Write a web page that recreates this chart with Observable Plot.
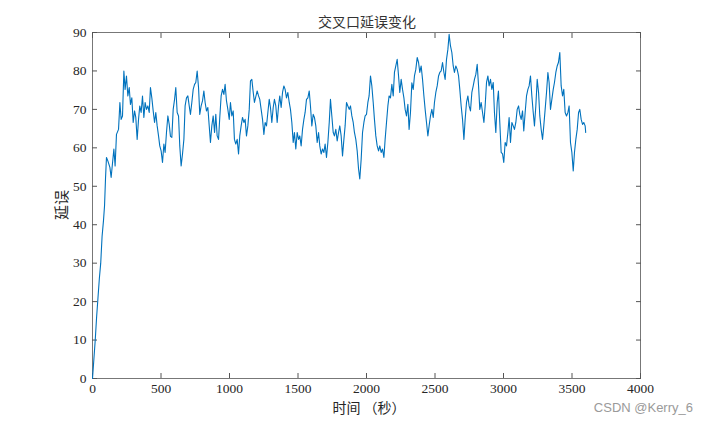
<!DOCTYPE html>
<html><head><meta charset="utf-8">
<script src="https://cdn.jsdelivr.net/npm/d3@7"></script>
<script src="https://cdn.jsdelivr.net/npm/@observablehq/plot@0.6"></script>
<style>
body{margin:0;background:#fff}
#wrap{position:relative;width:708px;height:425px;overflow:hidden}
.t{position:absolute;color:#262626;white-space:nowrap;line-height:1}
</style></head><body>
<div id="wrap"></div>
<script>
const titleText = "交叉口延误变化";
const xLabel = "时间 （秒）";
const yLabel = "延误";
const watermark = "CSDN @Kerry_6";
const xTicks = [0,500,1000,1500,2000,2500,3000,3500,4000];
const yTicks = [0,10,20,30,40,50,60,70,80,90];

const time = [0,10,20,30,40,50,60,70,80,88,95,102,112,127,136,146,156,165,175,190,200,209,219,229,238,248,258,268,277,287,297,307,316,326,336,345,355,365,375,384,394,404,414,423,433,443,453,462,472,482,491,501,511,521,530,540,550,560,
569,579,589,599,608,618,628,637,647,657,667,676,686,696,706,715,725,735,745,754,764,774,783,793,803,813,822,832,842,852,861,871,881,891,900,910,920,929,939,949,959,968,978,988,998,1007,1017,1027,1036,1046,1056,1066,1075,1085,1095,1105,1114,1124,1134,1144,1153,1163,1173,1182,
1202,1212,1221,1231,1241,1251,1260,1270,1280,1290,1299,1309,1319,1328,1338,1348,1358,1367,1377,1387,1397,1406,1416,1426,1436,1445,1455,1465,1474,1484,1494,1504,1513,1523,1533,1543,1552,1562,1572,1582,1591,1601,1611,1620,1630,1640,1650,1659,1669,1679,1689,1698,1708,1718,1728,1737,
1747,1757,1766,1776,1786,1796,1805,1815,1825,1835,1844,1854,1864,1874,1883,1893,1903,1912,1922,1932,1942,1951,1961,1971,1981,1990,2000,2010,2019,2029,2039,2049,2058,2068,2078,2088,2097,2107,2117,2127,2136,2146,2156,2165,2175,2185,2195,2204,2214,2224,2234,2243,2253,2263,2273,2282,2292,2302,2311,
2321,2331,2341,2350,2360,2370,2380,2389,2399,2409,2419,2428,2438,2448,2457,2467,2477,2487,2496,2506,2516,2526,2535,2545,2555,2565,2574,2584,2594,2603,2613,2623,2633,2642,2652,2662,2672,2681,2691,2701,2711,2720,2730,2740,2749,2759,2769,2779,2788,2798,2808,2818,2827,2837,2847,2857,2866,2876,2886,2895,2905,
2915,2925,2934,2944,2954,2963,2973,2983,2993,3002,3012,3022,3032,3041,3051,3061,3071,3080,3090,3100,3110,3119,3129,3139,3148,3158,3168,3178,3187,3197,3207,3217,3226,3236,3246,3256,3265,3275,3285,3294,3304,3314,3324,3333,3343,3353,3363,3372,3382,3392,3401,3411,3421,3431,3440,3450,3460,3470,3479,3489,3499,3509,3518,3528,3538,3548,3557,3567,3577,3586,3596,3600];

const delay = [0,5,10,16,21,26,30,37,41,45,52,57.5,56.6,54.9,52.3,56,59.7,55.3,63.5,64.8,71.8,67.4,68.3,80,75.2,78.7,73.5,75.7,71.3,73,66.6,69.6,67.9,62.2,67.4,70.9,69.2,73.5,67.9,71.8,70,70.9,69.2,75.7,73,69.6,66.6,69.2,65.7,63.1,60.5,59.2,56.2,61,58.8,64,68.3,66.1,
63,62.7,70,72.6,75.7,69.2,68.3,60.5,55.3,58.4,62.2,70.9,73,73.5,70.9,68.7,71.8,75.2,76.5,77,80,75.7,68.7,70.9,72.2,74.8,71.8,69.6,70.5,65.7,61.4,65.7,68.3,64,68.7,63.1,62.2,67.9,73.5,75.2,73.9,76.5,72.2,70,67.4,71.8,68.3,69.6,62.2,61,62.2,58.4,63.1,65.7,67.9,66.6,67.4,63.1,65.7,70,77.4,77.8,74.5,71.8,
74.8,73.5,72.6,70,67.4,63.5,66.6,65.7,69.2,72.6,70.5,66.6,70.5,72.6,70.9,66.6,70.9,73.5,70.5,74.4,76.1,75.2,73,74.4,71.8,70,66.6,61.4,64,59.7,64,62.2,63.1,60.5,64.8,67.4,69.2,72.6,73,74.8,70.9,65.7,68.7,67.9,65.7,61.4,64,60.5,58.4,59.7,58.8,61,57.5,61.4,66.6,72.6,
68.3,64,63.1,64.8,61.8,64,65.7,63.1,57.9,62.2,65.7,71.8,70.9,70,70.9,68.3,66.6,64,62.2,59.2,54.5,51.9,57,64,66.6,68.3,68.7,71.8,73.5,78.7,76.1,71.8,67.4,63.1,60.5,59.2,60.5,58.8,59.7,57.5,62.2,66.6,70.9,73.5,73,76.5,73.5,79.6,81.3,83,78.7,74.4,77.8,75.2,73,70,68.3,71.3,64.8,
69.2,76.9,75.2,78.7,80.4,83.5,82.2,79.6,81.3,77.8,73.5,70,66.6,63.1,65.7,68.3,70,67.9,71.8,74.4,76.1,78.7,79.6,80,82.2,79.6,77.8,83,85.6,89.5,86.5,84.8,81.3,79.6,81.3,80.4,78.7,75.2,70.9,67.4,62.2,67.4,71.8,73.5,70.9,69.6,74.4,76.1,77.8,79.1,81.7,76.1,70,71.8,69.2,66.6,70.9,77,78.7,76.1,77.8,
75.2,77,69.2,64,71.8,74.8,66.6,58.8,58.4,56.2,61.4,60.5,64,67.9,61.4,66.6,65.7,64.8,66.6,70,70.9,68.7,67.4,69.6,64.4,69.2,73.5,75.2,76.1,78.7,73.5,69.2,65.7,70.9,77.8,74.4,68.3,64.8,62.2,65.7,70,74.4,79.6,77,70,72.6,75.2,77,79.6,81.3,82.2,84.8,76.1,73.5,75.2,69.2,68.3,69.2,70.9,61.4,58.8,54,58.8,62.2,64.8,69.2,70,67.4,66.1,66.6,65.7,64];

const data = time.map((t, i) => ({t, v: delay[i]}));
const axisGray = "#555";
const textColor = "#262626";
const noLabel = () => "";
const plain = d => String(d);

const chart = Plot.plot({
  width: 708, height: 425,
  marginLeft: 92, marginRight: 68, marginTop: 32, marginBottom: 47,
  x: {domain: [0, 4000]},
  y: {domain: [0, 90]},
  style: {fontFamily: "'Liberation Serif', 'Times New Roman', serif", fontSize: "13.5px", color: textColor, background: "white", overflow: "visible"},
  marks: [
    Plot.frame({stroke: "#777", strokeWidth: 1}),
    Plot.axisX(xTicks, {anchor: "bottom", tickSize: -5, stroke: axisGray, tickFormat: noLabel, label: null}),
    Plot.axisX(xTicks, {anchor: "top", tickSize: -5, stroke: axisGray, tickFormat: noLabel, label: null}),
    Plot.axisY(yTicks, {anchor: "left", tickSize: -5, stroke: axisGray, tickFormat: noLabel, label: null}),
    Plot.axisY(yTicks, {anchor: "right", tickSize: -5, stroke: axisGray, tickFormat: noLabel, label: null}),
    Plot.axisX(xTicks, {anchor: "bottom", tickSize: 0, tickPadding: 5, fill: textColor, tickFormat: plain, label: null}),
    Plot.axisY(yTicks, {anchor: "left", tickSize: 0, tickPadding: 6, fill: textColor, tickFormat: plain, label: null}),
    Plot.line(data, {x: "t", y: "v", stroke: "#0072BD", strokeWidth: 1.1})
  ]
});

const wrap = document.getElementById("wrap");
wrap.appendChild(chart);

function addText(txt, css) {
  const d = document.createElement("div");
  d.className = "t";
  d.textContent = txt;
  Object.assign(d.style, css);
  wrap.appendChild(d);
  return d;
}
addText(titleText, {left: "367px", top: "14px", transform: "translateX(-50%)", fontFamily: "'Noto Sans CJK SC', sans-serif", fontSize: "14px", color: "#333"});
addText(xLabel, {left: "369px", top: "400px", transform: "translateX(-50%)", fontFamily: "'Noto Sans CJK SC', sans-serif", fontSize: "14px", color: textColor});
addText(yLabel, {left: "60px", top: "205px", transform: "translate(-50%,-50%) rotate(-90deg)", fontFamily: "'Noto Sans CJK SC', sans-serif", fontSize: "15px", color: textColor});
addText(watermark, {right: "15px", top: "401px", fontFamily: "'Liberation Sans', Arial, sans-serif", fontSize: "13px", color: "#9a9a9a"});
</script>
</body></html>
